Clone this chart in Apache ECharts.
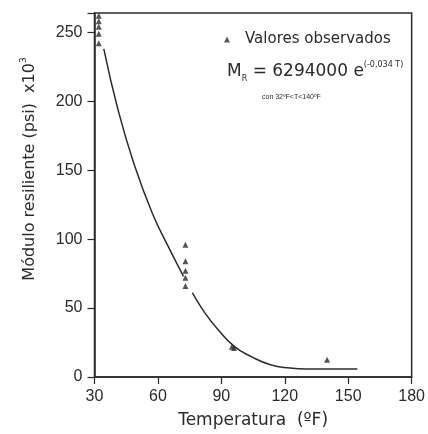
<!DOCTYPE html>
<html>
<head>
  <meta charset="utf-8">
  <title>Módulo resiliente</title>
  <script src="https://cdn.jsdelivr.net/npm/echarts@6/dist/echarts.min.js"></script>
</head>
<style>
  * { padding: 0; margin: 0; }
  #main { width: 428px; height: 434px; background: #fff; }
</style>
<body>
  <div id="main"></div>
  <script type="text/javascript">
    // valores observados (T en ºF, MR en psi x10^3)
    var obsT = [32, 32, 32, 32, 32, 73, 73, 73, 73, 73, 95, 96, 140];
    var obsMR = [262, 258, 254, 249, 242, 96, 84, 77, 72, 66, 22, 21, 12.6];

    // curva de ajuste (dos tramos, cortada junto a los puntos de 73ºF)
    var fitT1 = [34.4, 41.1, 48.8, 57.3, 65.1, 72.1];
    var fitMR1 = [238, 194, 154, 119, 94, 73];
    var fitT2 = [76.3, 82.2, 88.4, 96.1, 103.9, 113.2, 122.5, 130.2, 140, 154.3];
    var fitMR2 = [61, 46.5, 34.4, 22.2, 15, 8.9, 6.5, 5.8, 5.8, 5.8];

    var xTicks = [30, 60, 90, 120, 150, 180];
    var yTicks = [0, 50, 100, 150, 200, 250];

    function pairs(xs, ys) {
      return xs.map(function (x, i) { return [x, ys[i]]; });
    }

    var ink = '#2b2b2b';
    var font = 'Liberation Sans';
    var wide = 'DejaVu Sans';

    var option = {
      backgroundColor: '#fff',
      animation: false,
      textStyle: { fontFamily: font, color: ink },
      grid: {
        left: 94.5, right: 11, top: 13, bottom: 56.7,
        show: true, borderColor: ink, borderWidth: 1.5
      },
      legend: {
        data: ['Valores observados'],
        left: 219, top: 27,
        icon: 'triangle', itemWidth: 6, itemHeight: 6,
        textStyle: { fontSize: 15, fontFamily: wide, color: ink, padding: [0, 0, 0, 10] }
      },
      title: [{
        text: '{m|M}{sub|R}{m| = 6294000 e}{sup|(-0,034 T)}',
        left: 222, top: 56,
        textStyle: {
          fontWeight: 'normal',
          rich: {
            m: { fontSize: 17, color: ink, fontFamily: wide, fontWeight: 'normal', lineHeight: 22 },
            sub: { fontSize: 8, color: ink, fontFamily: wide, fontWeight: 'normal', verticalAlign: 'bottom' },
            sup: { fontSize: 8, color: ink, fontFamily: wide, fontWeight: 'normal', verticalAlign: 'top' }
          }
        }
      }, {
        text: 'con 32ºF<T<140ºF',
        left: 257, top: 89,
        textStyle: { fontSize: 7, fontWeight: 'normal', color: ink, fontFamily: font }
      }],
      xAxis: {
        type: 'value', min: xTicks[0], max: xTicks[xTicks.length - 1], interval: 30,
        name: 'Temperatura  (ºF)', nameLocation: 'middle', nameGap: 35,
        nameTextStyle: { fontSize: 17, color: ink, fontFamily: wide },
        axisLine: { lineStyle: { color: ink, width: 1.5 } },
        axisTick: { length: 7, lineStyle: { color: ink, width: 1.2 } },
        axisLabel: { fontSize: 16, color: ink, margin: 12 },
        splitLine: { show: false }
      },
      yAxis: {
        type: 'value', min: yTicks[0], max: 264, interval: 50,
        name: '{a|Módulo resiliente (psi)  x10}{s|3}', nameLocation: 'middle', nameGap: 55,
        nameTextStyle: {
          padding: [0, 0, 0, 52],
          rich: {
            a: { fontSize: 16, color: ink, fontFamily: wide, lineHeight: 20 },
            s: { fontSize: 9, color: ink, fontFamily: wide, verticalAlign: 'top' }
          }
        },
        axisLine: { show: true, lineStyle: { color: ink, width: 1.5 } },
        axisTick: { show: true, length: 7, lineStyle: { color: ink, width: 1.2 } },
        axisLabel: {
          fontSize: 16, color: ink, margin: 12,
          formatter: function (v) { return yTicks.indexOf(v) >= 0 ? v : ''; }
        },
        splitLine: { show: false }
      },
      series: [{
        name: 'Valores observados',
        type: 'scatter',
        symbol: 'triangle',
        symbolSize: 6,
        itemStyle: { color: ink },
        data: pairs(obsT, obsMR),
        z: 3
      }, {
        name: 'ajuste1',
        type: 'line',
        smooth: 0.5,
        showSymbol: false,
        lineStyle: { color: ink, width: 1.5 },
        data: pairs(fitT1, fitMR1)
      }, {
        name: 'ajuste2',
        type: 'line',
        smooth: 0.5,
        showSymbol: false,
        lineStyle: { color: ink, width: 1.5 },
        data: pairs(fitT2, fitMR2)
      }]
    };

    var myChart = echarts.init(document.getElementById('main'));
    myChart.setOption(option);
  </script>
</body>
</html>
